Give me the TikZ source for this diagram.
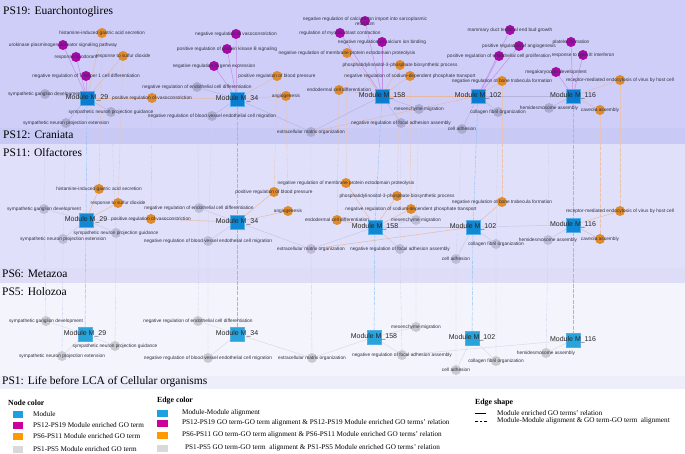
\documentclass[tikz,border=0pt]{standalone}
\usepackage{fontspec}
\setmainfont{Liberation Serif}
\newfontfamily\arialfont{Liberation Sans}
\usetikzlibrary{calc}

\pgfdeclarelayer{bands}
\pgfdeclarelayer{edges}
\pgfsetlayers{bands,edges,main}

\begin{document}
\begin{tikzpicture}[x=1pt, y=-1pt,
  goterm/.style={circle, minimum size=10pt, inner sep=0pt, draw=none},
  golbl/.style={font=\arialfont\fontsize{4.8}{5.4}\selectfont, text=cText, inner sep=0pt, align=center},
  module/.style={rectangle, minimum size=13.5pt, inner sep=0pt, draw=cModEdge, line width=0.4pt},
  modlbl/.style={font=\arialfont\fontsize{7}{8}\selectfont, text=black!85, inner sep=0pt},
  title/.style={anchor=west, inner sep=0pt, font=\fontsize{11.5}{13}\selectfont},
  eP/.style={draw=ePurple, line width=0.5pt},
  eO/.style={draw=eOrange, line width=0.45pt},
  alnB/.style={draw=eBlue, line width=0.4pt, dash pattern=on 4pt off 1.2pt},
  alnO/.style={draw=eOrange!85!white, line width=0.35pt, dash pattern=on 4pt off 1.2pt},
  alnG/.style={draw=eGrayB!80!white, line width=0.35pt, dash pattern=on 4pt off 1.2pt},
  swatch/.style={rectangle, minimum width=10pt, minimum height=7pt, inner sep=0pt},
  legtxt/.style={anchor=west, inner sep=0pt, font=\fontsize{7.2}{8}\selectfont},
  leghead/.style={anchor=west, inner sep=0pt, font=\bfseries\fontsize{7.8}{9}\selectfont}]

% --- colors ---
\definecolor{cBand19}{HTML}{CECEF9}
\definecolor{cBand12}{HTML}{C9C9F6}
\definecolor{cBand11}{HTML}{E0E0FA}
\definecolor{cBand6} {HTML}{DDDDF8}
\definecolor{cBand5} {HTML}{F4F4FD}
\definecolor{cBand1} {HTML}{EEEEFB}
\definecolor{cModA}  {HTML}{0A7DD1}
\definecolor{cModB}  {HTML}{1088D2}
\definecolor{cModC}  {HTML}{28A4DB}
\definecolor{cModEdge}{HTML}{55AEEA}
\definecolor{cPurple}{HTML}{A50AA8}
\definecolor{cOrange}{HTML}{DF8B2B}
\definecolor{cGrayA} {HTML}{ACACD0}
\definecolor{cGrayB} {HTML}{BDBDD8}
\definecolor{cGrayC} {HTML}{CACACF}
\definecolor{cText}  {HTML}{303040}
\definecolor{ePurple}{HTML}{C58EE6}
\definecolor{eOrange}{HTML}{E6B89F}
\definecolor{eBlue}  {HTML}{8CC0F4}
\definecolor{eGrayA} {HTML}{B4B4DC}
\definecolor{eGrayB} {HTML}{C6C6E6}
\definecolor{eGrayC} {HTML}{D9D9E3}
\definecolor{lgMod}  {HTML}{1BA1E2}
\definecolor{lgPurp} {HTML}{CC0099}
\definecolor{lgOran} {HTML}{FF9900}
\definecolor{lgGray} {HTML}{D9D9D9}

\useasboundingbox (0,0) rectangle (685,454);

% --- phylostratum bands ---
\begin{pgfonlayer}{bands}
  \fill[cBand19] (0,0)   rectangle (685,128);
  \fill[cBand12] (0,128) rectangle (685,144);
  \fill[cBand11] (0,144) rectangle (685,268);
  \fill[cBand6]  (0,268) rectangle (685,283);
  \fill[cBand5]  (0,283) rectangle (685,376);
  \fill[cBand1]  (0,376) rectangle (685,389);
\end{pgfonlayer}

\node[title] (tPS19) at (3,12)  {PS19: Euarchontoglires};
\node[title] (tPS12) at (3,135) {PS12: Craniata};
\node[title] (tPS11) at (3,153) {PS11: Olfactores};
\node[title] (tPS6)  at (2,274) {PS6: Metazoa};
\node[title] (tPS5)  at (2,292) {PS5: Holozoa};
\node[title] (tPS1)  at (2,382) {PS1: Life before LCA of Cellular organisms};

% --- modules ---
\foreach \num/\x/\y in {29/87/98, 34/237/99, 158/382/96, 102/478/96, 116/573/96}
  \node[module, fill=cModA, label={[modlbl]center:Module M\_\num}] (aM\num) at (\x,\y) {};
\foreach \num/\x/\y in {29/86/220, 34/237/222, 158/375/227, 102/473/227, 116/573/225}
  \node[module, fill=cModB, label={[modlbl]center:Module M\_\num}] (bM\num) at (\x,\y) {};
\foreach \num/\x/\y in {29/85/334, 34/237/334, 158/374/337, 102/472/338, 116/573/340}
  \node[module, fill=cModC, label={[modlbl]center:Module M\_\num}] (cM\num) at (\x,\y) {};

% --- PS19 GO terms ---
\foreach \id/\x/\y/\c/\txt in {
  hist/102/33/cOrange/histamine-induced gastric acid secretion,
  uro/63/45/cPurple/urokinase plasminogen activator signaling pathway,
  odor/76/57/cPurple/response to odorant,
  sulf/123/56/cOrange/response to sulfur dioxide,
  thelp/86/76/cPurple/negative regulation of T-helper 1 cell differentiation,
  gang/45/94/cGrayA/sympathetic ganglion development,
  vaso/152/98/cOrange/positive regulation of vasoconstriction,
  guid/111/112/cGrayA/sympathetic neuron projection guidance,
  ext/66/123/cGrayA/sympathetic neuron projection extension,
  endo/197/87/cGrayA/negative regulation of endothelial cell differentiation,
  bves/212/116/cGrayA/negative regulation of blood vessel endothelial cell migration,
  nvaso/236/34/cPurple/negative regulation of vasoconstriction,
  pkb/227/49/cPurple/positive regulation of protein kinase B signaling,
  gene/214/66/cPurple/negative regulation of gene expression,
  bp/277/76/cOrange/positive regulation of blood pressure,
  angio/286/96/cOrange/angiogenesis,
  calc/365/21/cPurple/negative regulation of calcium ion import into sarcoplasmic\\reticulum,
  myo/340/33/cPurple/regulation of myofibroblast contraction,
  cab/382/42/cPurple/negative regulation of calcium ion binding,
  memb/347/53/cOrange/negative regulation of membrane protein ectodomain proteolysis,
  pip/400/65/cOrange/phosphatidylinositol-3-phosphate biosynthetic process,
  sod/410/76/cOrange/negative regulation of sodium-dependent phosphate transport,
  endod/339/90/cOrange/endodermal cell differentiation,
  mes/419/109/cGrayA/mesenchyme migration,
  focal/401/123/cGrayA/negative regulation of focal adhesion assembly,
  ecm/311/132/cGrayA/extracellular matrix organization,
  mam/510/30/cPurple/mammary duct terminal end bud growth,
  pang/519/46/cPurple/positive regulation of angiogenesis,
  prol/499/56/cPurple/positive regulation of endothelial cell proliferation,
  bone/502/81/cOrange/negative regulation of bone trabecula formation,
  coll/498/112/cGrayA/collagen fibril organization,
  adh/462/129/cGrayA/cell adhesion,
  plat/571/42/cPurple/platelet formation,
  ifn/583/55/cPurple/response to type III interferon,
  mega/556/72/cPurple/megakaryocyte development,
  vir/620/80/cOrange/receptor-mediated endocytosis of virus by host cell,
  hemi/549/108/cGrayA/hemidesmosome assembly,
  cav/600/110/cOrange/caveola assembly}
  \node[goterm, fill=\c, label={[golbl]center:\txt}] (a\id) at (\x,\y) {};

% --- PS11 GO terms ---
\foreach \id/\x/\y/\c/\txt in {
  hist/99/189/cOrange/histamine-induced gastric acid secretion,
  sulf/118/203/cOrange/response to sulfur dioxide,
  gang/44/209/cGrayB/sympathetic ganglion development,
  vaso/151/219/cOrange/positive regulation of vasoconstriction,
  guid/116/233/cGrayB/sympathetic neuron projection guidance,
  ext/63/239/cGrayB/sympathetic neuron projection extension,
  endo/199/208/cGrayB/negative regulation of endothelial cell differentiation,
  bves/208/241/cGrayB/negative regulation of blood vessel endothelial cell migration,
  bp/274/192/cOrange/positive regulation of blood pressure,
  angio/288/211/cOrange/angiogenesis,
  memb/346/183/cOrange/negative regulation of membrane protein ectodomain proteolysis,
  pip/397/196/cOrange/phosphatidylinositol-3-phosphate biosynthetic process,
  sod/411/209/cOrange/negative regulation of sodium-dependent phosphate transport,
  endod/337/220/cOrange/endodermal cell differentiation,
  mes/416/220/cGrayB/mesenchyme migration,
  ecm/311/249/cGrayB/extracellular matrix organization,
  focal/400/249/cGrayB/negative regulation of focal adhesion assembly,
  adh/456/259/cGrayB/cell adhesion,
  bone/502/202/cOrange/negative regulation of bone trabecula formation,
  coll/496/244/cGrayB/collagen fibril organization,
  vir/620/211/cOrange/receptor-mediated endocytosis of virus by host cell,
  hemi/548/240/cGrayB/hemidesmosome assembly,
  cav/600/239/cOrange/caveola assembly}
  \node[goterm, fill=\c, label={[golbl]center:\txt}] (b\id) at (\x,\y) {};

% --- PS5 GO terms ---
\foreach \id/\x/\y/\txt in {
  gang/46/321/sympathetic ganglion development,
  guid/115/346/sympathetic neuron projection guidance,
  ext/62/356/sympathetic neuron projection extension,
  endo/198/321/negative regulation of endothelial cell differentiation,
  bves/208/358/negative regulation of blood vessel endothelial cell migration,
  ecm/312/358/extracellular matrix organization,
  mes/416/327/mesenchyme migration,
  focal/402/355/negative regulation of focal adhesion assembly,
  coll/496/361/collagen fibril organization,
  adh/456/370/cell adhesion,
  hemi/546/353/hemidesmosome assembly}
  \node[goterm, fill=cGrayC, label={[golbl]center:\txt}] (c\id) at (\x,\y) {};

% --- relations and alignments ---
\begin{pgfonlayer}{edges}
  % PS19
  \foreach \m/\t in {M29/uro, M29/odor, M29/thelp, M34/nvaso, M34/pkb, M34/gene,
      M158/calc, M158/myo, M158/cab, M102/mam, M102/pang, M102/prol,
      M116/plat, M116/ifn, M116/mega}
    \draw[eP] (a\m) -- (a\t);
  \foreach \m/\t in {M29/hist, M29/sulf, M29/vaso, M34/vaso, M34/bp, M34/angio,
      M158/memb, M158/pip, M158/sod, M158/endod, M102/bone, M102/ecm,
      M158/M102, M116/vir, M116/cav}
    \draw[eO] (a\m) -- (a\t);
  \foreach \m/\t in {M29/gang, M29/guid, M29/ext, M34/endo, M34/bves, M34/ecm,
      M158/mes, M158/focal, M158/ecm, M102/coll, M102/adh, M102/M116, M116/hemi}
    \draw[draw=eGrayA, line width=0.45pt] (a\m) -- (a\t);
  % PS11
  \foreach \m/\t in {M29/hist, M29/sulf, M29/vaso, M34/vaso, M34/bp, M34/angio,
      M158/memb, M158/pip, M158/sod, M158/endod, M102/bone, M102/ecm,
      M158/M102, M116/vir, M116/cav}
    \draw[eO] (b\m) -- (b\t);
  \foreach \m/\t in {M29/gang, M29/guid, M29/ext, M34/endo, M34/bves, M34/ecm,
      M158/mes, M158/focal, M158/ecm, M102/coll, M102/adh, M102/M116, M116/hemi}
    \draw[draw=eGrayB, line width=0.45pt] (b\m) -- (b\t);
  % PS5
  \foreach \m/\t in {M29/gang, M29/guid, M29/ext, M34/endo, M34/bves, M34/ecm,
      M158/mes, M158/focal, M158/ecm, M102/coll, M102/adh, M116/hemi, M116/focal}
    \draw[draw=eGrayC, line width=0.45pt] (c\m) -- (c\t);
  % alignments across strata
  \foreach \n in {29,34,158,102,116}
    \draw[alnB] (aM\n) -- (bM\n) -- (cM\n);
  \foreach \t in {hist, sulf, vaso, bp, angio, memb, pip, sod, endod, bone, vir, cav}
    \draw[alnO] (a\t) -- (b\t);
  \foreach \t in {gang, guid, ext, endo, bves, ecm, mes, focal, coll, adh, hemi}
    \draw[alnG] (a\t) -- (b\t) -- (c\t);
\end{pgfonlayer}

% --- legend: node color ---
\node[leghead] (hNode) at (8,403) {Node color};
\foreach \c/\y/\txt [count=\i] in {lgMod/414/Module,
    lgPurp/425/PS12-PS19 Module enriched GO term,
    lgOran/436/PS6-PS11 Module enriched GO term,
    lgGray/449/PS1-PS5 Module enriched GO term} {
  \node[swatch, fill=\c] (ns\i) at (18,\y) {};
  \node[legtxt] (nt\i) at (33,\y) {\txt};
}

% --- legend: edge color ---
\node[leghead] (hEdge) at (157,401) {Edge color};
\foreach \c/\y/\xt/\txt [count=\i] in {lgMod/413/182/Module-Module alignment,
    lgPurp/423/182/PS12-PS19 GO term-GO term alignment \& PS12-PS19 Module enriched GO terms’ relation,
    lgOran/435/182/PS6-PS11 GO term-GO term alignment \& PS6-PS11 Module enriched GO terms’ relation,
    lgGray/448/185/PS1-PS5 GO term-GO term \ alignment \& PS1-PS5 Module enriched GO terms’ relation} {
  \node[swatch, minimum width=11pt, fill=\c] (es\i) at (162.5,\y) {};
  \node[legtxt] (et\i) at (\xt,\y) {\txt};
}

% --- legend: edge shape ---
\node[leghead] (hShape) at (475,403) {Edge shape};
\coordinate (solA) at (475,413);
\coordinate (solB) at (486,413);
\coordinate (dasA) at (475,421);
\coordinate (dasB) at (487,421);
\draw[line width=0.8pt] (solA) -- (solB);
\draw[line width=0.8pt, dash pattern=on 2.6pt off 2pt] (dasA) -- (dasB);
\node[legtxt] (st1) at (497,413) {Module enriched GO terms’ relation};
\node[legtxt] (st2) at (497,421) {Module-Module alignment \& GO term-GO term \ alignment};

\end{tikzpicture}
\end{document}
